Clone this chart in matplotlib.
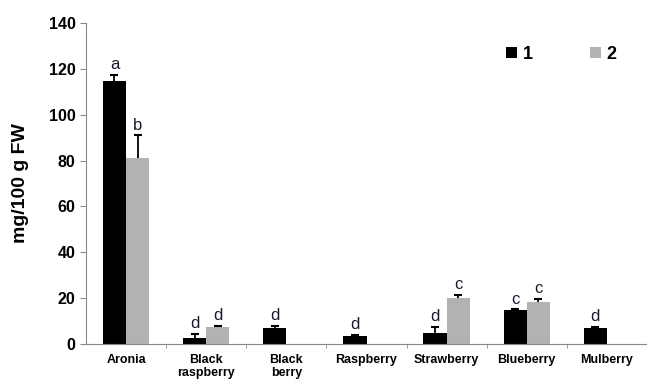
import matplotlib

matplotlib.use("Agg")
import matplotlib.pyplot as plt
import numpy as np

plt.rcParams["font.family"] = ["Liberation Sans", "DejaVu Sans"]

categories = ["Aronia", "Black\nraspberry", "Black\nberry", "Raspberry",
              "Strawberry", "Blueberry", "Mulberry"]
series1 = [114.8, 2.8, 6.8, 3.4, 4.9, 14.7, 6.8]
err1 = [2.4, 1.6, 1.2, 0.4, 2.4, 0.4, 0.7]
letters1 = ["a", "d", "d", "d", "d", "c", "d"]
series2 = [81.0, 7.3, np.nan, np.nan, 19.9, 18.3, np.nan]
err2 = [10.0, 0.7, np.nan, np.nan, 1.4, 1.5, np.nan]
letters2 = ["b", "d", "", "", "c", "c", ""]

x = np.arange(len(categories))
w = 0.29

fig = plt.figure(figsize=(6.47, 3.83), dpi=100)
ax = fig.add_axes([0.133, 0.102, 0.867, 0.838])

v1, e1 = np.array(series1), np.array(err1)
v2, e2 = np.array(series2), np.array(err2)
ax.bar(x - w / 2, v1, w, color="black", label="1")
ax.bar(x + w / 2, v2, w, color="#b2b2b2", label="2")

# upper-only error bars: stem + cap at the top
for xs, v, e in [(x - w / 2, v1, e1), (x + w / 2, v2, e2)]:
    ax.vlines(xs, v, v + e, color="black", lw=1.3)
    ax.plot(xs, v + e, ls="none", marker="_", ms=6, mew=1.5, color="black")

for i in x:
    ax.annotate(letters1[i], (i - w / 2, v1[i] + e1[i]), xytext=(0, 2),
                textcoords="offset points", ha="center", va="bottom",
                fontsize=12, color="#1a1a2e")
    if letters2[i]:
        ax.annotate(letters2[i], (i + w / 2, v2[i] + e2[i]), xytext=(0, 2),
                    textcoords="offset points", ha="center", va="bottom",
                    fontsize=12, color="#1a1a2e")

ax.set_xlim(-0.5, 6.5)
ax.set_ylim(0, 140)
ax.set_yticks(range(0, 141, 20))
ax.set_yticklabels([str(v) for v in range(0, 141, 20)], fontsize=11.5,
                   fontweight="bold")
ax.set_xticks(x)
ax.set_xticklabels(categories, fontsize=9, fontweight="bold")
ax.tick_params(axis="x", length=0, pad=7)
ax.set_xticks(np.arange(0.5, 6.5, 1), minor=True)
ax.tick_params(axis="x", which="minor", length=3, color="#888888")
ax.tick_params(axis="y", length=4, color="#888888", direction="out")
ax.set_ylabel("mg/100 g FW", fontsize=14, fontweight="bold", labelpad=14)

for s in ["top", "right"]:
    ax.spines[s].set_visible(False)
for s in ["left", "bottom"]:
    ax.spines[s].set_color("#888888")

ax.legend(loc="upper right", bbox_to_anchor=(0.975, 0.98), ncol=2,
          frameon=False, handlelength=0.6, handleheight=0.6,
          handletextpad=0.3, columnspacing=3.2,
          prop=dict(size=13, weight="bold"))

fig.savefig("out.png", dpi=100)
